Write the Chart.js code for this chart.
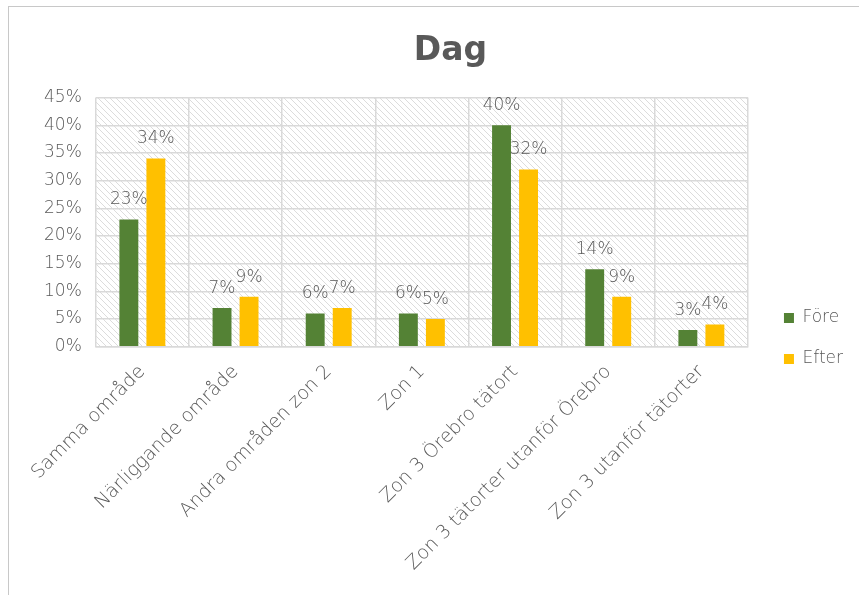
<!DOCTYPE html>
<html><head><meta charset="utf-8">
<script src="https://cdn.jsdelivr.net/npm/chart.js@4/dist/chart.umd.min.js"></script>
<style>html,body{margin:0;padding:0;background:#fff}#wrap{width:859px;height:595px}</style>
</head><body><div id="wrap"><canvas id="c" width="859" height="595"></canvas></div>
<script>
const categories = ["Samma område","Närliggande område","Andra områden zon 2","Zon 1","Zon 3 Örebro tätort","Zon 3 tätorter utanför Örebro","Zon 3 utanför tätorter"];
const fore = [23,7,6,6,40,14,3];
const efter = [34,9,7,5,32,9,4];
const seriesNames = ["Före","Efter"];
const yTicks = [0,5,10,15,20,25,30,35,40,45];

const FONT = "'DejaVu Sans', sans-serif";
const TXT = "#595959";

function hatch(){
  const c=document.createElement('canvas');c.width=6;c.height=6;
  const g=c.getContext('2d');g.fillStyle='#ffffff';g.fillRect(0,0,6,6);
  g.strokeStyle='#dcdcdc';g.lineWidth=1;
  g.beginPath();g.moveTo(0,0);g.lineTo(6,6);g.moveTo(-3,3);g.lineTo(3,9);g.moveTo(3,-3);g.lineTo(9,3);g.stroke();
  return c;
}

const bgPlugin={id:'bg',
 afterLayout(ch){ // nudge legend and title blocks as in the original
   const L=ch.legend; if(L){ L.left+=12; L.right+=12; L.top+=32; L.bottom+=32; }
   const T=ch.titleBlock; if(T){ T.left+=15; T.right+=15; }
 },
 beforeDraw(ch){
  const {ctx,chartArea:a}=ch;ctx.save();
  ctx.fillStyle='#fff';ctx.fillRect(0,0,ch.width,ch.height);
  ctx.strokeStyle='#c8c8c8';ctx.lineWidth=1;ctx.strokeRect(8.5,6.5,ch.width+20,ch.height+20);
  ctx.fillStyle=ctx.createPattern(hatch(),'repeat');
  ctx.fillRect(a.left,a.top,a.right-a.left,a.bottom-a.top);
  ctx.restore();
}};
const labelPlugin={id:'dl',afterDatasetsDraw(ch){
  const ctx=ch.ctx;ctx.save();ctx.font="200 17px "+FONT;ctx.fillStyle=TXT;ctx.textAlign='center';ctx.textBaseline='bottom';
  ch.data.datasets.forEach((ds,i)=>{ch.getDatasetMeta(i).data.forEach((el,j)=>{ctx.fillText(ds.data[j]+'%',el.x,el.y-11);});});
  ctx.restore();
}};

new Chart(document.getElementById('c'),{
  type:'bar',
  data:{labels:categories,datasets:[
    {label:seriesNames[0],data:fore,backgroundColor:'#548235',categoryPercentage:0.58,barPercentage:0.7},
    {label:seriesNames[1],data:efter,backgroundColor:'#FFC000',categoryPercentage:0.58,barPercentage:0.7}
  ]},
  options:{responsive:false,animation:false,
    layout:{padding:{left:30,right:18,top:24,bottom:6}},
    plugins:{
      title:{display:true,text:'Dag',color:TXT,font:{family:FONT,size:33,weight:'bold'},padding:{top:8,bottom:26}},
      legend:{position:'right',align:'center',labels:{color:TXT,font:{family:FONT,size:17,weight:200},boxWidth:10,boxHeight:10,padding:24}},
      tooltip:{enabled:false}
    },
    scales:{
      x:{grid:{color:'#d9d9d9',lineWidth:1.5,offset:true,drawTicks:false},border:{color:'#d9d9d9',width:1.5},
        ticks:{color:TXT,font:{family:FONT,size:19,weight:200},maxRotation:45,minRotation:45,padding:14,autoSkip:false}},
      y:{min:0,max:45,grid:{color:'#d9d9d9',lineWidth:1.5,drawTicks:false},border:{display:false},
        afterBuildTicks(ax){ax.ticks=yTicks.map(v=>({value:v}));},
        ticks:{color:TXT,font:{family:FONT,size:17,weight:200},padding:14,callback:v=>v+'%'}}
    }
  },
  plugins:[bgPlugin,labelPlugin]
});
</script></body></html>
